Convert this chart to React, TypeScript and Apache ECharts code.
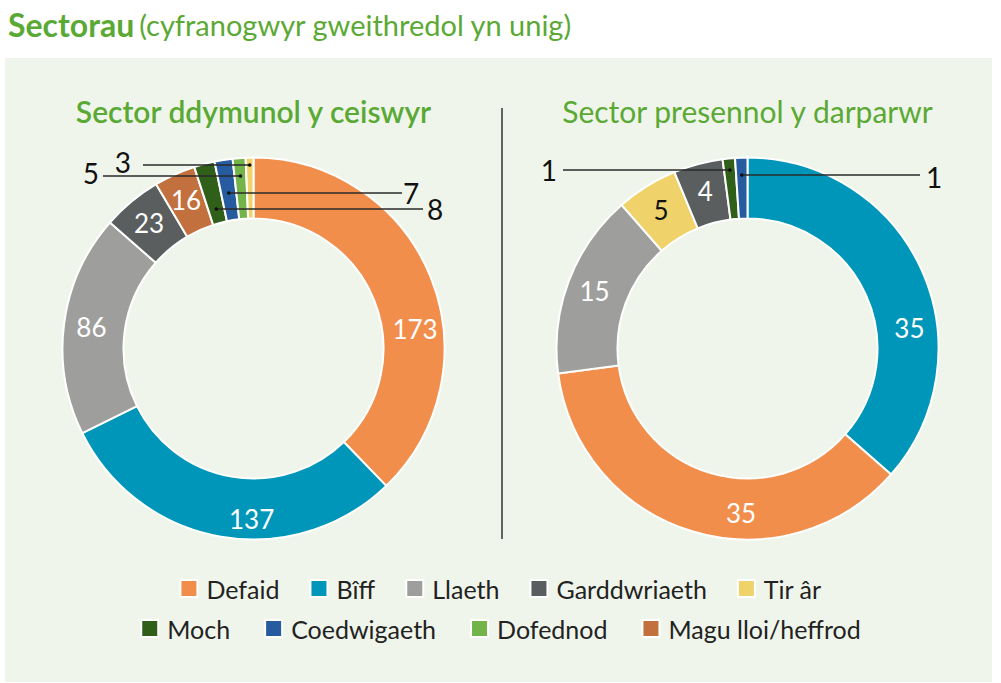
import React, { useEffect, useRef } from "react";
import * as echarts from "echarts";

// ---------- data ----------
const LEFT_TITLE = "Sector ddymunol y ceiswyr";
const RIGHT_TITLE = "Sector presennol y darparwr";
const LEFT_NAMES = ["Defaid", "Bîff", "Llaeth", "Garddwriaeth", "Magu lloi/heffrod", "Moch", "Coedwigaeth", "Dofednod", "Tir âr"];
const LEFT_VALUES = [173, 137, 86, 23, 16, 8, 7, 5, 3];
const RIGHT_NAMES = ["Bîff", "Defaid", "Llaeth", "Tir âr", "Garddwriaeth", "Moch", "Coedwigaeth"];
const RIGHT_VALUES = [35, 35, 15, 5, 4, 1, 1];
const LEGEND_ROW1 = ["Defaid", "Bîff", "Llaeth", "Garddwriaeth", "Tir âr"];
const LEGEND_ROW2 = ["Moch", "Coedwigaeth", "Dofednod", "Magu lloi/heffrod"];

// ---------- style ----------
const COLORS: Record<string, string> = {
  "Defaid": "#f28e4b",
  "Bîff": "#0096b9",
  "Llaeth": "#9e9e9d",
  "Garddwriaeth": "#5a5e5f",
  "Tir âr": "#efd26a",
  "Moch": "#2f5f18",
  "Coedwigaeth": "#275b9f",
  "Dofednod": "#72b449",
  "Magu lloi/heffrod": "#c2703d",
};
const GREEN = "#5ba935";
const FONT = "Lato";
const W = 1001;
const H = 683;
const CENTERS = [[253.5, 348.5], [747.5, 348.5]];
const R_IN = 130;
const R_OUT = 191;

// callout label placement (style): line y, end of line, label x, side
type Callout = { lineY: number; endX: number; labelX: number; labelY: number; side: "left" | "right" };
const CALLOUTS: Record<string, Callout>[] = [
  {
    "Tir âr": { lineY: 165, endX: 143, labelX: 131, labelY: 162, side: "left" },
    "Dofednod": { lineY: 176, endX: 103, labelX: 99, labelY: 173, side: "left" },
    "Coedwigaeth": { lineY: 193, endX: 402, labelX: 403, labelY: 193, side: "right" },
    "Moch": { lineY: 209, endX: 423, labelX: 427, labelY: 209, side: "right" },
  },
  {
    "Moch": { lineY: 170, endX: 563, labelX: 557, labelY: 170, side: "left" },
    "Coedwigaeth": { lineY: 175, endX: 920, labelX: 926, labelY: 177, side: "right" },
  },
];
// inside-label nudges (style)
const SHIFTS: Record<string, [number, number]>[] = [
  { "Defaid": [10, 42], "Bîff": [26, 9] },
  { "Bîff": [13, 47], "Defaid": [41, 8] },
];

function midAngles(values: number[]): number[] {
  const total = values.reduce((a, b) => a + b, 0);
  let cum = 0;
  return values.map((v) => {
    const a = ((cum + v / 2) / total) * 2 * Math.PI;
    cum += v;
    return a;
  });
}

function dotFor(si: number, idx: number, names: string[], values: number[]) {
  const c = CALLOUTS[si][names[idx]];
  const [cx, cy] = CENTERS[si];
  const a = midAngles(values)[idx];
  const x = cx + (cy - c.lineY) * Math.tan(a);
  return [x, c.lineY];
}

function buildData(si: number, names: string[], values: number[]) {
  return names.map((n, i) => {
    const call = CALLOUTS[si][n];
    const item: any = {
      name: n,
      value: values[i],
      itemStyle: { color: COLORS[n] },
      labelLine: { show: false },
    };
    if (call) {
      item.label = {
        show: true,
        position: "outside",
        formatter: "{c}",
        color: "#111",
        fontSize: 28,
        fontFamily: FONT,
      };
    } else {
      item.label = {
        show: true,
        position: "inside",
        formatter: "{c}",
        color: n === "Tir âr" ? "#111" : "#fff",
        fontSize: 26,
        fontFamily: FONT,
      };
    }
    return item;
  });
}

function makeLayout(si: number, names: string[]) {
  return (params: any) => {
    const n = names[params.dataIndex];
    const call = CALLOUTS[si][n];
    if (call) {
      return {
        x: call.labelX,
        y: call.labelY,
        align: call.side === "left" ? "right" : "left",
        verticalAlign: "middle",
      };
    }
    const s = SHIFTS[si][n];
    if (s) return { dx: s[0], dy: s[1] };
    return {};
  };
}

export default function App() {
  const ref = useRef<HTMLDivElement>(null);
  useEffect(() => {
    if (!ref.current) return;
    const chart = echarts.init(ref.current, undefined, { renderer: "svg" });

    const leaders: any[] = [];
    [
      [LEFT_NAMES, LEFT_VALUES],
      [RIGHT_NAMES, RIGHT_VALUES],
    ].forEach(([names, values], si) => {
      (names as string[]).forEach((n, i) => {
        const call = CALLOUTS[si][n];
        if (call) {
          const [x, y] = dotFor(si, i, names as string[], values as number[]);
          leaders.push({
            type: "line", z: 99, silent: true,
            shape: { x1: x, y1: y, x2: call.endX, y2: y },
            style: { stroke: "#2a2a2a", lineWidth: 1.3 },
          });
          leaders.push({ type: "circle", z: 100, silent: true, shape: { cx: x, cy: y, r: 1.8 }, style: { fill: "#111" } });
        }
      });
    });

    const legendCommon = {
      left: "center",
      orient: "horizontal",
      icon: "rect",
      itemWidth: 17,
      itemHeight: 17,
      padding: 0,
      selectedMode: false,
      textStyle: { fontFamily: FONT, fontSize: 25, color: "#222", padding: [0, 0, 0, 4] },
    };

    chart.setOption({
      animation: false,
      backgroundColor: "#ffffff",
      title: {
        text: "{b|Sectorau} {r|(cyfranogwyr gweithredol yn unig)}",
        left: 3,
        top: 3,
        textStyle: {
          rich: {
            b: { fontFamily: FONT, fontWeight: "bold", fontSize: 32, color: GREEN },
            r: { fontFamily: FONT, fontWeight: "normal", fontSize: 29, color: GREEN },
          },
        },
      },
      legend: [
        { ...legendCommon, itemGap: 30, top: 576, data: LEGEND_ROW1 },
        { ...legendCommon, itemGap: 34, top: 616, data: LEGEND_ROW2 },
      ],
      graphic: [
        { type: "rect", z: -10, silent: true, shape: { x: 5, y: 58, width: 987, height: 624 }, style: { fill: "#eff5ea" } },
        { type: "line", z: 1, silent: true, shape: { x1: 502, y1: 108, x2: 502, y2: 539 }, style: { stroke: "#333", lineWidth: 1.5 } },
        {
          type: "text", z: 5, x: CENTERS[0][0], y: 111,
          style: { text: LEFT_TITLE, fill: GREEN, fontFamily: FONT, fontSize: 30, fontWeight: 600, align: "center", verticalAlign: "middle" },
        },
        {
          type: "text", z: 5, x: CENTERS[1][0], y: 111,
          style: { text: RIGHT_TITLE, fill: GREEN, fontFamily: FONT, fontSize: 30, fontWeight: "normal", align: "center", verticalAlign: "middle" },
        },
        ...leaders,
      ],
      series: [
        {
          type: "pie",
          name: LEFT_TITLE,
          center: CENTERS[0],
          radius: [R_IN, R_OUT],
          startAngle: 90,
          clockwise: true,
          avoidLabelOverlap: false,
          silent: true,
          itemStyle: { borderColor: "#ffffff", borderWidth: 2 },
          labelLayout: makeLayout(0, LEFT_NAMES),
          data: buildData(0, LEFT_NAMES, LEFT_VALUES),
        },
        {
          type: "pie",
          name: RIGHT_TITLE,
          center: CENTERS[1],
          radius: [R_IN, R_OUT],
          startAngle: 90,
          clockwise: true,
          avoidLabelOverlap: false,
          silent: true,
          itemStyle: { borderColor: "#ffffff", borderWidth: 2 },
          labelLayout: makeLayout(1, RIGHT_NAMES),
          data: buildData(1, RIGHT_NAMES, RIGHT_VALUES),
        },
      ],
    });
    return () => chart.dispose();
  }, []);
  return <div ref={ref} style={{ position: "fixed", left: 0, top: 0, width: W, height: H }} />;
}
